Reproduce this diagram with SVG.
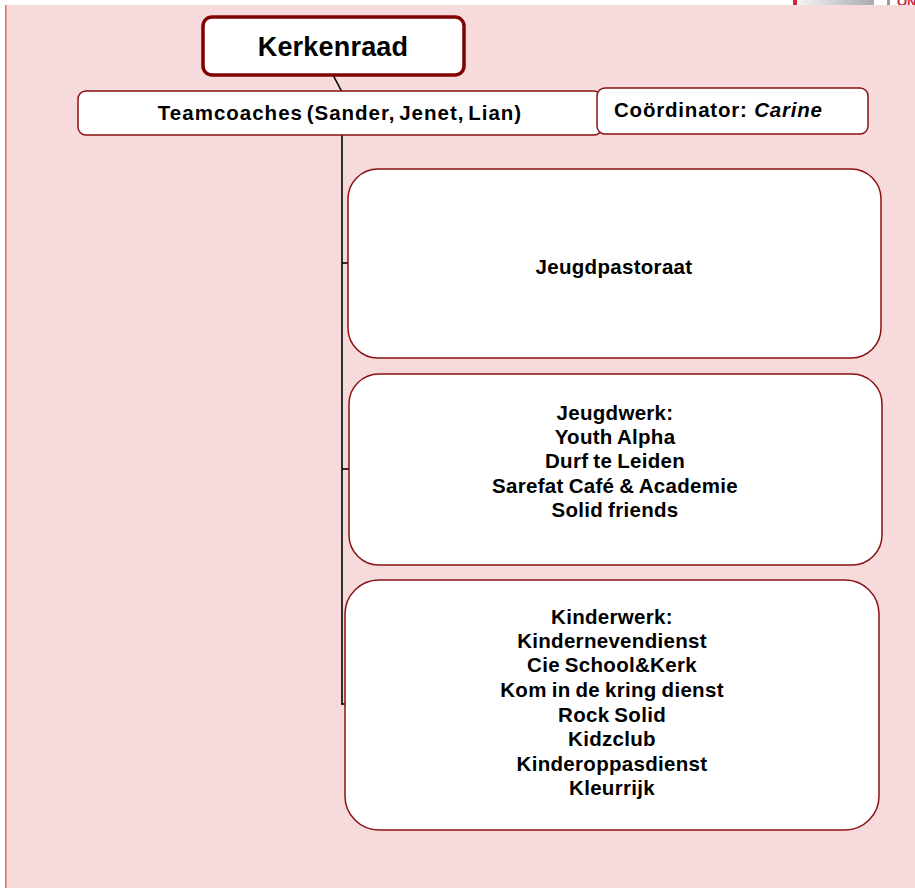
<svg xmlns="http://www.w3.org/2000/svg" width="915" height="888" viewBox="0 0 915 888">
  <defs>
    <linearGradient id="logoGrad" x1="0" y1="0" x2="1" y2="0">
      <stop offset="0" stop-color="#f4f4f4"/>
      <stop offset="1" stop-color="#a9abae"/>
    </linearGradient>
    <style>
      .box { fill: #ffffff; stroke: #8b1010; stroke-width: 1.5; }
      .main { fill: #ffffff; stroke: #800000; stroke-width: 3.5; }
      .t { font-family: "Liberation Sans", Arial, sans-serif; font-weight: bold; font-size: 20.5px; letter-spacing: 0.3px; word-spacing: -1px; fill: #000000; text-anchor: middle; }
      .conn { stroke: #000000; stroke-width: 1.6; fill: none; }
    </style>
  </defs>

  <rect x="0" y="0" width="915" height="888" fill="#ffffff"/>
  <g id="logo">
    <rect x="793" y="0" width="4" height="5" fill="#c8283a"/>
    <rect x="797" y="0" width="77" height="5" fill="url(#logoGrad)"/>
    <rect x="887" y="0" width="3" height="5" fill="#9a9a9a"/>
    <text x="897" y="6" font-family="Liberation Sans, Arial, sans-serif" font-weight="bold" font-size="13" fill="#c8283a">ON</text>
  </g>
  <rect x="5" y="5" width="910" height="883" fill="#f7dadb"/>
  <line x1="5.8" y1="5" x2="5.8" y2="888" stroke="#e07070" stroke-width="1.6"/>

  <g id="connectors">
    <line class="conn" x1="333" y1="75" x2="342" y2="92"/>
    <line class="conn" x1="342" y1="135" x2="342" y2="704"/>
    <line class="conn" x1="342" y1="263" x2="348" y2="263"/>
    <line class="conn" x1="342" y1="469" x2="349" y2="469"/>
    <line class="conn" x1="341" y1="704" x2="345" y2="704"/>
  </g>

  <g id="kerkenraad">
    <rect class="main" x="203" y="17" width="261" height="58" rx="9"/>
    <text class="t" x="333" y="56" style="font-size:27px;letter-spacing:0.2px">Kerkenraad</text>
  </g>

  <g id="teamcoaches">
    <rect class="box" x="78" y="91" width="524" height="44" rx="8"/>
    <text class="t" x="340" y="120" style="letter-spacing:1px;word-spacing:-3px">Teamcoaches (Sander, Jenet, Lian)</text>
  </g>

  <g id="coordinator">
    <rect class="box" x="597" y="88" width="271" height="46" rx="8"/>
    <text class="t" x="614" y="117" style="text-anchor:start;letter-spacing:0.8px;word-spacing:0px">Coördinator: <tspan font-style="italic">Carine</tspan></text>
  </g>

  <g id="jeugdpastoraat">
    <rect class="box" x="348" y="169" width="533" height="189" rx="30"/>
    <text class="t" x="614" y="274">Jeugdpastoraat</text>
  </g>

  <g id="jeugdwerk">
    <rect class="box" x="349" y="374" width="533" height="191" rx="30"/>
    <text class="t" x="615" y="420">Jeugdwerk:</text>
    <text class="t" x="615" y="444">Youth Alpha</text>
    <text class="t" x="615" y="468">Durf te Leiden</text>
    <text class="t" x="615" y="493">Sarefat Café &amp; Academie</text>
    <text class="t" x="615" y="517">Solid friends</text>
  </g>

  <g id="kinderwerk">
    <rect class="box" x="345" y="580" width="534" height="250" rx="34"/>
    <text class="t" x="612" y="624">Kinderwerk:</text>
    <text class="t" x="612" y="648">Kindernevendienst</text>
    <text class="t" x="612" y="672">Cie School&amp;Kerk</text>
    <text class="t" x="612" y="697">Kom in de kring dienst</text>
    <text class="t" x="612" y="722">Rock Solid</text>
    <text class="t" x="612" y="746">Kidzclub</text>
    <text class="t" x="612" y="771">Kinderoppasdienst</text>
    <text class="t" x="612" y="795">Kleurrijk</text>
  </g>
</svg>
